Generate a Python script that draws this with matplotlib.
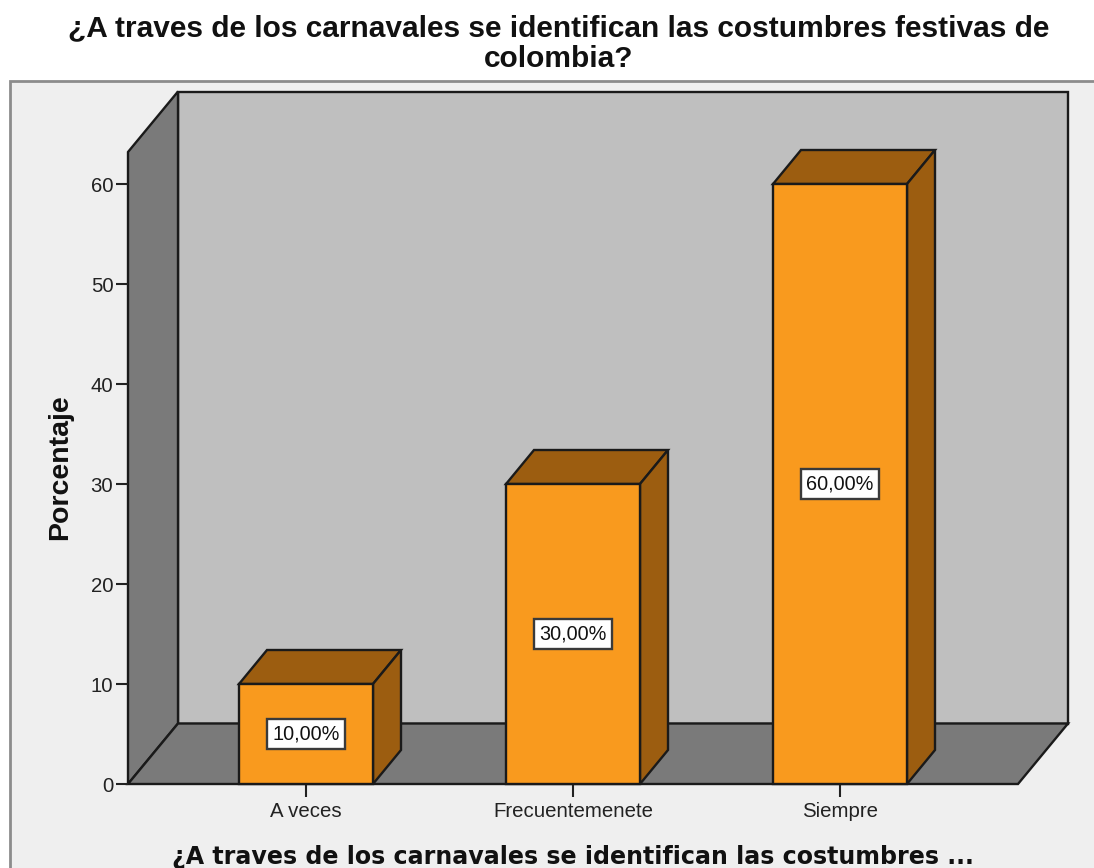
import matplotlib
matplotlib.use("Agg")
import matplotlib.pyplot as plt
from matplotlib.patches import Polygon, Rectangle

categories = ["A veces", "Frecuentemenete", "Siempre"]
values = [10, 30, 60]
labels = ["10,00%", "30,00%", "60,00%"]
y_ticks = [0, 10, 20, 30, 40, 50, 60]

title = "¿A traves de los carnavales se identifican las costumbres festivas de\ncolombia?"
x_title = "¿A traves de los carnavales se identifican las costumbres ..."
y_title = "Porcentaje"

W, H = 1094, 868
ORANGE, BROWN = "#F99A1E", "#9C5D10"
WALL, SIDE = "#BFBFBF", "#7A7A7A"
PANEL, EDGE = "#EFEFEF", "#1A1A1A"
LW = 1.7
FS = 14.7
plt.rcParams["font.family"] = ["Liberation Sans", "DejaVu Sans"]

fig = plt.figure(figsize=(W / 100, H / 100), dpi=100, facecolor="white")
fig.add_artist(Rectangle((10 / W, -0.01), 1.02, 1.01 - 81 / H, transform=fig.transFigure,
                         facecolor=PANEL, edgecolor="#8C8C8C", linewidth=2, zorder=-1))

# axes: left 128, right 1018, bottom 784, top 152 (pixels)
ax = fig.add_axes([128 / W, 1 - 784 / H, 890 / W, 632 / H])
ax.set_xlim(-178 / 267, 712 / 267)
ax.set_ylim(0, 63.2)
ax.patch.set_visible(False)
for s in ax.spines.values():
    s.set_visible(False)

x0, x1 = ax.get_xlim()
ytop = ax.get_ylim()[1]
wx, wy = 50 / 267, 6.05          # wall depth
bx, by = 28 / 267, 3.4           # bar depth
bw = 134 / 267                   # bar width


def poly(pts, fc, z):
    ax.add_patch(Polygon(pts, closed=True, facecolor=fc, edgecolor=EDGE, linewidth=LW,
                         joinstyle="miter", clip_on=False, zorder=z))


poly([(x0 + wx, wy), (x1 + wx, wy), (x1 + wx, ytop + wy), (x0 + wx, ytop + wy)], WALL, 1)
poly([(x0, 0), (x0, ytop), (x0 + wx, ytop + wy), (x0 + wx, wy)], SIDE, 1.1)
poly([(x0, 0), (x1, 0), (x1 + wx, wy), (x0 + wx, wy)], SIDE, 1.2)

for i, (v, lab) in enumerate(zip(values, labels)):
    l, r = i - bw / 2, i + bw / 2
    ax.bar(i, v, width=bw, color=ORANGE, edgecolor=EDGE, linewidth=LW, zorder=3, clip_on=False)
    poly([(l, v), (r, v), (r + bx, v + by), (l + bx, v + by)], BROWN, 2.9)
    poly([(r, 0), (r, v), (r + bx, v + by), (r + bx, by)], BROWN, 2.9)
    ax.text(i, v / 2, lab, ha="center", va="center", fontsize=14.3, color="#111111", zorder=5,
            bbox=dict(boxstyle="square,pad=0.28", facecolor="white", edgecolor="#3A3A3A", linewidth=1.7))

ax.set_xticks(range(len(categories)), categories)
ax.set_yticks(y_ticks)
ax.tick_params(axis="y", length=8.6, width=1.5, color="#222222", pad=2, labelsize=FS, labelcolor="#222222")
ax.tick_params(axis="x", length=9.4, width=1.5, color="#222222", pad=3.5, labelsize=FS, labelcolor="#222222")

fig.text(559 / W, 1 - 44 / H, title, ha="center", va="center", fontsize=21.55, fontweight="bold",
         color="#111111", linespacing=1.12)
fig.text(60 / W, 1 - 467 / H, y_title, rotation=90, ha="center", va="center", fontsize=20.5,
         fontweight="bold", color="#111111")
fig.text(573 / W, 1 - 857 / H, x_title, ha="center", va="center", fontsize=17.1, fontweight="bold",
         family=["DejaVu Sans"], color="#111111")

fig.savefig("out.png", dpi=100)
